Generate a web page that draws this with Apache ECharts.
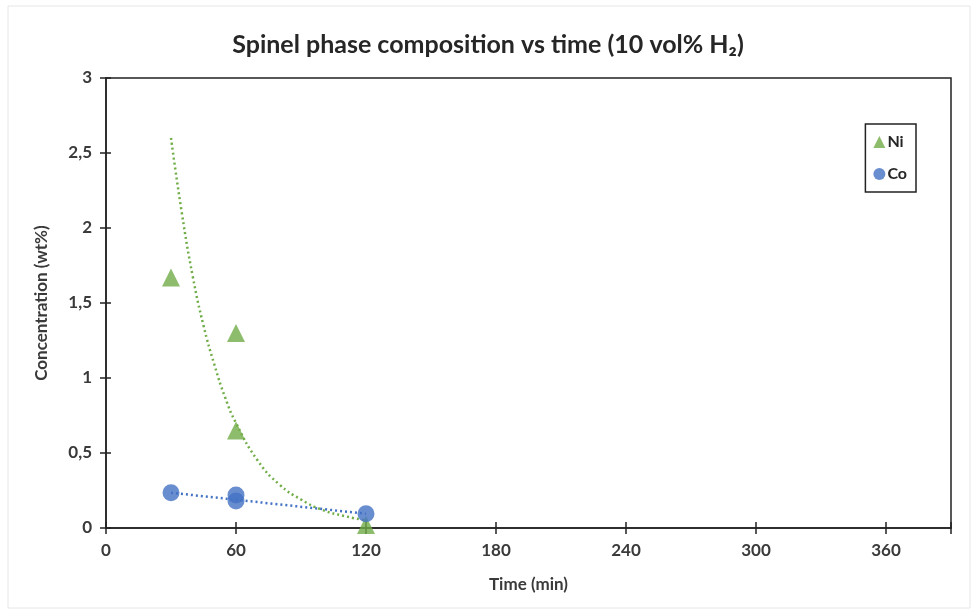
<!DOCTYPE html>
<html>
<head>
<meta charset="utf-8">
<title>Spinel phase composition vs time</title>
<script src="https://cdn.jsdelivr.net/npm/echarts@6/dist/echarts.min.js"></script>
<style>
  html, body { margin: 0; padding: 0; background: #fff; }
  #chart { width: 976px; height: 614px; }
</style>
</head>
<body>
<div id="chart"></div>
<script>
// measured points
var niTime = [30, 60, 60, 120];
var niConc = [1.67, 1.30, 0.65, 0.02];
var coTime = [30, 60, 60, 120];
var coConc = [0.235, 0.22, 0.18, 0.095];

// trendlines
var niTrendTime = [30, 35, 40, 45, 50, 55, 60, 70, 80, 90, 100, 110, 120];
var niTrendConc = [2.6, 2.1, 1.68, 1.35, 1.09, 0.87, 0.70, 0.45, 0.29, 0.19, 0.12, 0.08, 0.05];
var coTrendTime = [30, 120];
var coTrendConc = [0.235, 0.095];

var xTicks = [0, 60, 120, 180, 240, 300, 360];

function pairs(xs, ys) {
  var out = [];
  for (var i = 0; i < xs.length; i++) out.push([xs[i], ys[i]]);
  return out;
}

var font = 'Lato, "Open Sans", sans-serif';
var green = '#70AD47';
var blue = '#4472C4';
var ink = '#3a3a3a';

var chart = echarts.init(document.getElementById('chart'));
chart.setOption({
  animation: false,
  textStyle: { fontFamily: font },
  graphic: [{
    type: 'rect',
    shape: { x: 8, y: 6, width: 962, height: 602 },
    style: { fill: 'none', stroke: '#e6e6e6', lineWidth: 1 },
    silent: true
  }],
  title: {
    text: 'Spinel phase composition vs time (10 vol% H\u2082)',
    left: 'center',
    top: 27,
    textStyle: { fontSize: 25, fontWeight: 'bold', color: '#262626', fontFamily: font }
  },
  grid: {
    left: 106, right: 25, top: 78, bottom: 86,
    show: true, borderColor: '#222', borderWidth: 1.5, backgroundColor: 'transparent'
  },
  legend: {
    orient: 'vertical',
    right: 60, top: 124,
    padding: [10, 9, 10, 8],
    itemGap: 16,
    itemWidth: 12, itemHeight: 12,
    borderColor: '#222', borderWidth: 1.5,
    data: [
      { name: 'Ni', icon: 'triangle' },
      { name: 'Co', icon: 'circle' }
    ],
    textStyle: { fontSize: 16, fontWeight: 'bold', color: '#262626', padding: [0, 0, 0, -3] }
  },
  xAxis: [{
    type: 'value',
    min: 0, max: 390, interval: 60,
    name: 'Time (min)',
    nameLocation: 'middle',
    nameGap: 48,
    nameTextStyle: { fontSize: 17, fontWeight: 'bold', color: ink },
    axisLine: { lineStyle: { color: '#222', width: 1.5 } },
    axisTick: { show: true, length: 6, lineStyle: { color: '#222', width: 1.5 } },
    axisLabel: {
      fontSize: 17, fontWeight: 'bold', color: ink, margin: 14,
      formatter: function (v) { return xTicks.indexOf(v) >= 0 ? String(v) : ''; }
    },
    splitLine: { show: false }
  }, {
    type: 'value',
    min: 0, max: 390, interval: 60,
    position: 'bottom',
    axisLine: { show: false },
    axisTick: { show: true, inside: true, length: 6, lineStyle: { color: '#222', width: 1.5 } },
    axisLabel: { show: false },
    splitLine: { show: false }
  }],
  yAxis: [{
    type: 'value',
    min: 0, max: 3, interval: 0.5,
    name: 'Concentration (wt%)',
    nameLocation: 'middle',
    nameGap: 56,
    nameTextStyle: { fontSize: 17, fontWeight: 'bold', color: ink },
    axisLine: { show: true, lineStyle: { color: '#222', width: 1.5 } },
    axisTick: { show: true, length: 6, lineStyle: { color: '#222', width: 1.5 } },
    axisLabel: {
      fontSize: 17, fontWeight: 'bold', color: ink, margin: 14,
      formatter: function (v) { return String(v).replace('.', ','); }
    },
    splitLine: { show: false }
  }, {
    type: 'value',
    min: 0, max: 3, interval: 0.5,
    position: 'left',
    axisLine: { show: false },
    axisTick: { show: true, inside: true, length: 5, lineStyle: { color: '#222', width: 1.5 } },
    axisLabel: { show: false },
    splitLine: { show: false }
  }],
  series: [{
    name: 'Ni trend',
    type: 'line',
    data: pairs(niTrendTime, niTrendConc),
    smooth: true,
    showSymbol: false,
    lineStyle: { color: green, width: 2.5, type: [2, 3] },
    z: 1
  }, {
    name: 'Co trend',
    type: 'line',
    data: pairs(coTrendTime, coTrendConc),
    showSymbol: false,
    lineStyle: { color: blue, width: 2.5, type: [2, 3] },
    z: 1
  }, {
    name: 'Ni',
    type: 'scatter',
    data: pairs(niTime, niConc),
    symbol: 'triangle',
    symbolSize: 18,
    itemStyle: { color: green },
    z: 3
  }, {
    name: 'Co',
    type: 'scatter',
    data: pairs(coTime, coConc),
    symbol: 'circle',
    symbolSize: 17,
    itemStyle: { color: blue },
    z: 4
  }]
});
</script>
</body>
</html>
